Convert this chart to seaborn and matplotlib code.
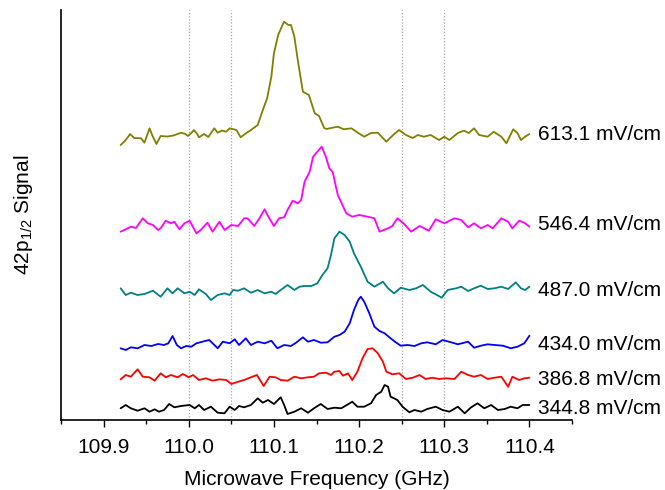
import matplotlib
matplotlib.use("Agg")
import matplotlib.pyplot as plt
import seaborn as sns
import pandas as pd
from matplotlib.ticker import MultipleLocator

# ---- microwave scans of the 42p1/2 resonance at several static fields ----
# Signal values are in arbitrary units and already include the vertical
# stacking offset of each scan.

freq_613 = [109.920, 109.925, 109.929, 109.931, 109.936, 109.944, 109.948, 109.954, 109.957, 109.962,
            109.967, 109.975, 109.982, 109.991, 109.996, 109.999, 110.003, 110.006, 110.010, 110.012,
            110.018, 110.023, 110.030, 110.034, 110.039, 110.044, 110.048, 110.056, 110.061, 110.066,
            110.073, 110.081, 110.087, 110.092, 110.097, 110.100, 110.105, 110.111, 110.112, 110.117,
            110.120, 110.124, 110.128, 110.134, 110.141, 110.148, 110.153, 110.159, 110.162, 110.167,
            110.175, 110.182, 110.191, 110.199, 110.206, 110.214, 110.222, 110.232, 110.240, 110.247,
            110.255, 110.263, 110.269, 110.276, 110.284, 110.294, 110.300, 110.306, 110.316, 110.323,
            110.329, 110.335, 110.341, 110.351, 110.358, 110.367, 110.373, 110.381, 110.386, 110.390,
            110.395, 110.400]
sig_613 = [275.0, 279.0, 283.3, 286.0, 282.0, 281.7, 277.3, 291.7, 285.0, 276.0,
           284.0, 283.5, 284.5, 287.3, 286.0, 284.0, 287.0, 290.0, 286.0, 282.7,
           286.0, 283.0, 291.7, 287.3, 289.5, 288.3, 291.7, 290.0, 282.7, 286.0,
           290.0, 295.0, 310.0, 321.7, 343.3, 366.7, 385.0, 396.7, 398.3, 395.0,
           395.0, 383.3, 360.0, 328.3, 325.0, 306.7, 304.0, 292.0, 291.0, 292.0,
           293.3, 290.7, 291.7, 287.0, 283.3, 287.0, 287.3, 278.3, 285.0, 290.0,
           285.0, 282.0, 285.0, 283.3, 285.0, 280.0, 283.3, 280.0, 287.0, 289.3,
           287.0, 291.7, 285.0, 283.3, 288.3, 283.3, 276.7, 290.7, 287.0, 280.0,
           283.3, 286.0]

freq_546 = [109.920, 109.926, 109.932, 109.938, 109.946, 109.952, 109.958, 109.964, 109.967, 109.973,
            109.979, 109.983, 109.989, 109.995, 110.001, 110.009, 110.014, 110.022, 110.028, 110.036,
            110.042, 110.050, 110.058, 110.065, 110.069, 110.077, 110.083, 110.089, 110.093, 110.100,
            110.106, 110.112, 110.116, 110.122, 110.128, 110.132, 110.136, 110.142, 110.146, 110.151,
            110.156, 110.161, 110.165, 110.169, 110.175, 110.185, 110.192, 110.200, 110.210, 110.218,
            110.224, 110.234, 110.239, 110.245, 110.253, 110.261, 110.271, 110.282, 110.290, 110.300,
            110.312, 110.320, 110.328, 110.335, 110.343, 110.351, 110.357, 110.367, 110.375, 110.380,
            110.388, 110.394, 110.400]
sig_546 = [188.3, 190.7, 193.3, 192.0, 201.7, 196.7, 195.0, 190.0, 191.7, 199.3,
           196.7, 198.3, 190.7, 196.7, 199.3, 186.7, 190.0, 197.3, 188.3, 198.3,
           190.0, 195.0, 194.0, 201.7, 201.7, 194.0, 201.7, 210.7, 204.0, 194.0,
           201.7, 202.7, 210.0, 219.3, 216.7, 220.0, 238.3, 248.3, 263.3, 268.3,
           273.3, 263.3, 251.7, 248.0, 225.0, 206.7, 203.3, 205.0, 203.3, 201.7,
           188.3, 191.7, 194.0, 201.7, 196.0, 188.3, 194.0, 189.3, 200.7, 196.7,
           201.7, 200.0, 192.7, 196.7, 191.7, 195.0, 191.7, 201.7, 198.3, 191.7,
           199.3, 197.3, 193.3]

freq_487 = [109.920, 109.926, 109.932, 109.940, 109.948, 109.958, 109.967, 109.975, 109.981, 109.987,
            109.995, 110.001, 110.007, 110.012, 110.020, 110.026, 110.034, 110.042, 110.048, 110.052,
            110.058, 110.065, 110.073, 110.081, 110.089, 110.097, 110.102, 110.108, 110.116, 110.124,
            110.130, 110.136, 110.144, 110.151, 110.157, 110.163, 110.167, 110.171, 110.177, 110.183,
            110.189, 110.194, 110.202, 110.210, 110.218, 110.228, 110.234, 110.241, 110.249, 110.259,
            110.267, 110.275, 110.284, 110.290, 110.297, 110.304, 110.314, 110.320, 110.328, 110.335,
            110.343, 110.351, 110.359, 110.367, 110.375, 110.384, 110.390, 110.395, 110.400]
sig_487 = [131.7, 125.0, 127.3, 125.0, 126.0, 129.3, 123.3, 131.7, 126.7, 131.7,
           126.7, 128.3, 125.0, 130.7, 126.0, 120.0, 125.0, 126.7, 125.0, 130.0,
           129.3, 131.7, 127.3, 130.0, 126.7, 128.3, 126.0, 130.0, 135.0, 130.0,
           133.3, 134.0, 134.0, 136.7, 145.0, 151.7, 165.0, 181.7, 188.3, 185.0,
           178.3, 166.7, 153.3, 138.3, 133.3, 138.3, 131.7, 126.7, 132.3, 130.0,
           131.7, 135.0, 128.3, 125.7, 122.3, 130.0, 131.7, 133.3, 129.0, 131.7,
           134.3, 131.0, 131.7, 133.3, 131.0, 137.7, 131.7, 130.0, 133.3]

freq_434 = [109.920, 109.926, 109.932, 109.940, 109.948, 109.956, 109.964, 109.971, 109.976, 109.981,
            109.986, 109.991, 109.997, 110.003, 110.009, 110.016, 110.024, 110.028, 110.034, 110.040,
            110.048, 110.054, 110.059, 110.067, 110.073, 110.081, 110.089, 110.097, 110.104, 110.112,
            110.120, 110.126, 110.134, 110.140, 110.147, 110.155, 110.163, 110.171, 110.177, 110.183,
            110.189, 110.194, 110.199, 110.202, 110.206, 110.212, 110.218, 110.224, 110.230, 110.237,
            110.243, 110.249, 110.257, 110.265, 110.273, 110.280, 110.290, 110.298, 110.308, 110.316,
            110.328, 110.335, 110.343, 110.351, 110.359, 110.369, 110.378, 110.386, 110.394, 110.400]
sig_434 = [71.7, 70.0, 72.7, 71.7, 75.0, 74.0, 76.0, 75.0, 76.7, 84.0,
           75.0, 71.7, 74.0, 73.3, 76.7, 78.3, 80.0, 76.7, 71.7, 78.3,
           76.7, 80.7, 75.0, 81.7, 75.0, 78.3, 76.7, 79.3, 71.7, 75.0,
           74.0, 77.3, 82.7, 78.3, 80.0, 77.3, 77.7, 83.3, 85.0, 88.3,
           96.7, 110.0, 120.0, 123.3, 118.3, 106.7, 93.3, 89.0, 86.7, 81.7,
           77.7, 74.3, 75.0, 74.0, 76.7, 77.7, 75.7, 80.0, 77.7, 75.7,
           78.3, 72.3, 74.3, 75.7, 75.0, 74.3, 71.7, 73.3, 76.7, 84.3]

freq_387 = [109.920, 109.926, 109.932, 109.940, 109.946, 109.954, 109.960, 109.967, 109.973, 109.979,
            109.987, 109.993, 110.000, 110.005, 110.012, 110.020, 110.028, 110.036, 110.044, 110.050,
            110.058, 110.065, 110.073, 110.080, 110.088, 110.095, 110.102, 110.108, 110.116, 110.124,
            110.132, 110.140, 110.147, 110.153, 110.161, 110.167, 110.171, 110.177, 110.181, 110.187,
            110.192, 110.198, 110.204, 110.210, 110.216, 110.222, 110.228, 110.232, 110.239, 110.247,
            110.255, 110.263, 110.271, 110.278, 110.286, 110.294, 110.302, 110.312, 110.320, 110.328,
            110.335, 110.343, 110.351, 110.359, 110.367, 110.375, 110.380, 110.388, 110.394, 110.400]
sig_387 = [40.7, 45.0, 43.3, 50.7, 43.3, 42.7, 39.3, 46.7, 42.7, 45.0,
           42.7, 46.0, 42.7, 45.0, 40.0, 41.7, 39.3, 40.7, 40.0, 36.0,
           38.3, 40.0, 42.7, 45.0, 34.0, 43.3, 42.7, 40.0, 39.3, 43.3,
           41.7, 42.7, 43.3, 46.7, 47.3, 45.0, 48.3, 49.0, 44.3, 46.7,
           40.0, 48.3, 61.7, 71.0, 71.7, 66.7, 58.3, 48.3, 45.7, 46.7,
           41.0, 42.3, 45.0, 41.0, 42.3, 41.0, 41.7, 41.0, 48.3, 45.0,
           43.3, 45.0, 41.0, 42.3, 43.3, 33.3, 43.3, 40.0, 41.7, 42.3]

freq_345 = [109.920, 109.926, 109.932, 109.940, 109.948, 109.954, 109.960, 109.965, 109.971, 109.977,
            109.983, 109.991, 110.001, 110.007, 110.012, 110.018, 110.026, 110.034, 110.042, 110.048,
            110.054, 110.059, 110.065, 110.073, 110.081, 110.087, 110.093, 110.100, 110.108, 110.112,
            110.116, 110.124, 110.132, 110.140, 110.147, 110.155, 110.163, 110.171, 110.179, 110.187,
            110.192, 110.198, 110.206, 110.214, 110.220, 110.226, 110.230, 110.234, 110.237, 110.245,
            110.251, 110.259, 110.265, 110.273, 110.280, 110.290, 110.298, 110.306, 110.316, 110.324,
            110.331, 110.339, 110.347, 110.355, 110.363, 110.371, 110.378, 110.386, 110.392, 110.400]
sig_345 = [11.7, 15.0, 11.7, 9.3, 11.7, 8.3, 10.7, 8.3, 10.0, 16.0,
           12.7, 14.0, 15.0, 11.7, 15.0, 10.0, 13.3, 7.3, 6.7, 13.3,
           10.0, 14.0, 12.7, 15.0, 21.7, 17.3, 20.0, 16.0, 22.7, 15.0,
           6.0, 8.3, 11.7, 7.3, 11.7, 16.0, 11.0, 12.3, 11.7, 15.7,
           18.3, 13.3, 13.3, 16.7, 25.0, 28.3, 35.0, 33.3, 23.3, 20.0,
           13.3, 7.7, 10.0, 8.3, 11.0, 13.3, 10.0, 8.3, 13.3, 6.7,
           12.3, 16.7, 11.7, 15.0, 10.0, 11.0, 13.3, 11.7, 15.0, 15.0]

field_labels = ["613.1 mV/cm", "546.4 mV/cm", "487.0 mV/cm",
                "434.0 mV/cm", "386.8 mV/cm", "344.8 mV/cm"]
trace_colors = ["#808000", "#ff00ff", "#008080", "#0000ff", "#ff0000", "#000000"]
label_levels = [285, 195, 130, 76, 41, 12]
tick_values = [109.9, 110.0, 110.1, 110.2, 110.3, 110.4]
guide_freqs = [110.0, 110.05, 110.25, 110.3]

scans = [(freq_613, sig_613), (freq_546, sig_546), (freq_487, sig_487),
         (freq_434, sig_434), (freq_387, sig_387), (freq_345, sig_345)]
frames = []
for lab, (f, s) in zip(field_labels, scans):
    frames.append(pd.DataFrame({"freq": f, "signal": s, "field": lab}))
df = pd.concat(frames, ignore_index=True)

sns.set_style("ticks")
plt.rcParams["font.family"] = ["Liberation Sans", "DejaVu Sans"]
plt.rcParams["mathtext.fontset"] = "custom"
plt.rcParams["mathtext.rm"] = "Liberation Sans"
plt.rcParams["mathtext.it"] = "Liberation Sans:italic"
plt.rcParams["text.color"] = "black"
plt.rcParams["axes.labelcolor"] = "black"
plt.rcParams["xtick.color"] = "black"
plt.rcParams["ytick.color"] = "black"

fig = plt.figure(figsize=(6.65, 4.9), dpi=100)
ax = fig.add_axes([61 / 665, 70 / 490, 511 / 665, 410 / 490])

for gx in guide_freqs:
    ax.axvline(gx, color="#a8a8a8", lw=0.9, ls=(0, (1, 1.5)), zorder=0)

sns.lineplot(data=df, x="freq", y="signal", hue="field",
             palette=dict(zip(field_labels, trace_colors)),
             estimator=None, sort=False, legend=False, lw=1.3, ax=ax)

for lab, lvl in zip(field_labels, label_levels):
    ax.text(110.41, lvl, lab, ha="left", va="center", fontsize=15,
            color="black", clip_on=False)

ax.set_xlim(109.85, 110.45)
ax.set_ylim(0, 410)
ax.set_xticks(tick_values)
ax.set_xticklabels([f"{v:.1f}" for v in tick_values])
ax.xaxis.set_minor_locator(MultipleLocator(0.05))
ax.set_yticks([])
ax.tick_params(axis="x", which="major", direction="out", length=5, width=1,
               labelsize=15, pad=8, color="black", labelcolor="black")
ax.tick_params(axis="x", which="minor", direction="out", length=3, width=1,
               color="black")

for side in ("top", "right"):
    ax.spines[side].set_visible(False)
for side in ("left", "bottom"):
    ax.spines[side].set_linewidth(1.2)
    ax.spines[side].set_color("black")

ax.set_xlabel("Microwave Frequency (GHz)", fontsize=15, labelpad=9)
ax.set_ylabel(r"42p$_{\mathregular{1/2}}$ Signal", fontsize=15)
ax.yaxis.set_label_coords(-0.05, 0.5)

fig.savefig("out.png", dpi=100)
